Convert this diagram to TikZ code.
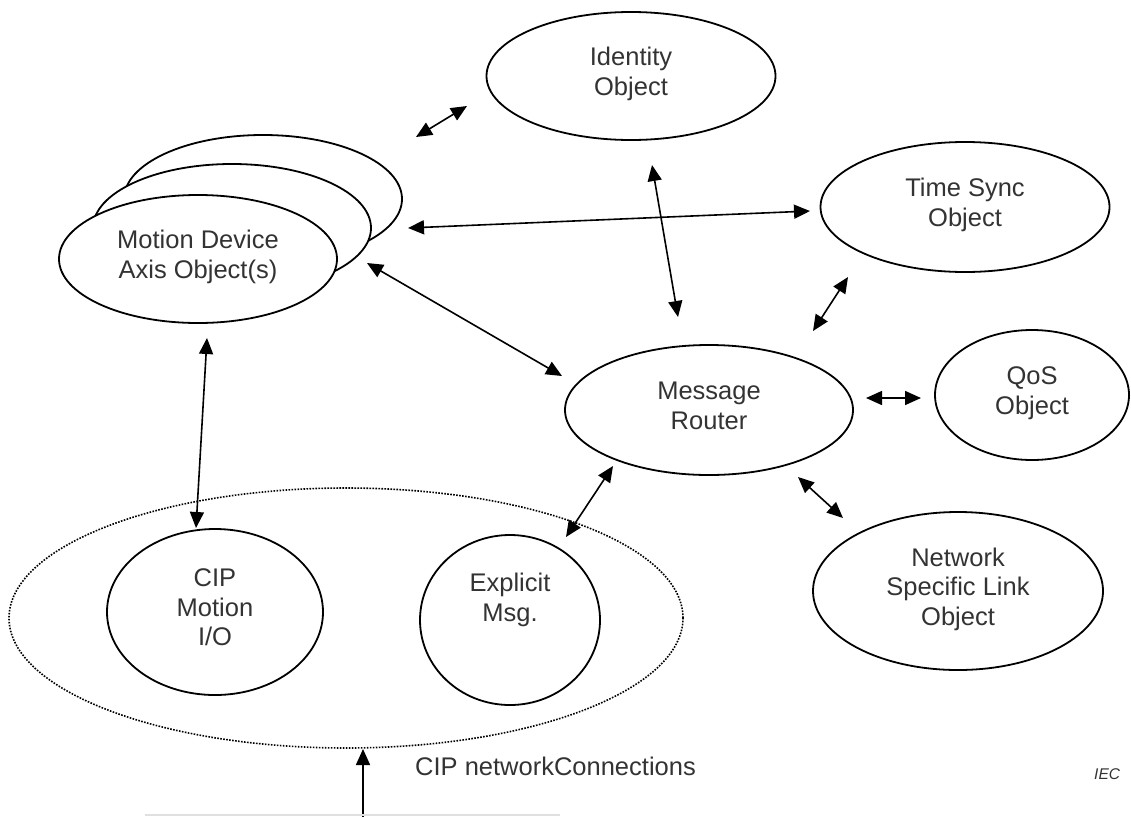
\documentclass[tikz,border=0pt]{standalone}
\usepackage{fontspec}
\setmainfont{Liberation Sans}
\usetikzlibrary{shapes.geometric,arrows.meta}
\begin{document}
\begin{tikzpicture}[x=1pt,y=-1pt,
  obj/.style={ellipse, draw=black, line width=1.8pt, fill=white, inner sep=0pt,
    align=center, text=black!80, font=\fontsize{25.5}{29.5}\selectfont, text depth=9pt},
  link/.style={line width=1.6pt, {Triangle[length=16pt,width=14pt]}-{Triangle[length=16pt,width=14pt]}},
  feed/.style={line width=1.6pt, -{Triangle[length=16pt,width=14pt]}},
  lbl/.style={text=black!80, font=\fontsize{25.5}{29.5}\selectfont, inner sep=0pt}]
\useasboundingbox (0,0) rectangle (1131,817);

% stacked axis objects
\node[obj, minimum width=278pt, minimum height=128pt] (mdBack) at (263,199) {};
\node[obj, minimum width=278pt, minimum height=128pt] (mdMid) at (232,228) {};
\node[obj, minimum width=278pt, minimum height=128pt] (mdFront) at (198,259) {Motion Device\\Axis Object(s)};

% device objects
\node[obj, minimum width=289pt, minimum height=128pt] (ident) at (631,76) {Identity\\Object};
\node[obj, minimum width=289pt, minimum height=130pt] (tsync) at (965,207) {Time Sync\\Object};
\node[obj, minimum width=288pt, minimum height=130pt] (router) at (709,410) {Message\\Router};
\node[obj, minimum width=194pt, minimum height=130pt] (qos) at (1032,395) {QoS\\Object};
\node[obj, minimum width=290pt, minimum height=158pt] (netlink) at (958,591) {Network\\Specific Link\\Object};

% connection group
\node[ellipse, draw=black, line width=1.6pt, dash pattern=on 1.6pt off 1.4pt,
  minimum width=674pt, minimum height=260pt] (conn) at (346,618) {};
\node[obj, minimum width=216pt, minimum height=166pt] (cipio) at (215,612) {CIP\\Motion\\I/O};
\node[obj, minimum width=180pt, minimum height=170pt, text depth=46pt] (explicit) at (510,620) {Explicit\\Msg.};

% arrow end points
\coordinate (mdId) at (416,137);   \coordinate (idMd) at (467,106);
\coordinate (mdTs) at (408,228);   \coordinate (tsMd) at (810,211);
\coordinate (idMr) at (652,165);   \coordinate (mrId) at (678,317);
\coordinate (mdMr) at (367,263);   \coordinate (mrMd) at (562,376);
\coordinate (tsMr) at (848,277);   \coordinate (mrTs) at (813,331);
\coordinate (mrQs) at (866,398);   \coordinate (qsMr) at (921,398);
\coordinate (mrNl) at (798,477);   \coordinate (nlMr) at (843,518);
\coordinate (mrEx) at (613,466);   \coordinate (exMr) at (566,537);
\coordinate (mdCi) at (207,338);   \coordinate (ciMd) at (196,528);
\coordinate (feedIn) at (363,817); \coordinate (feedTip) at (363,749);

\draw[link] (mdId) -- (idMd);
\draw[link] (mdTs) -- (tsMd);
\draw[link] (idMr) -- (mrId);
\draw[link] (mdMr) -- (mrMd);
\draw[link] (tsMr) -- (mrTs);
\draw[link] (mrQs) -- (qsMr);
\draw[link] (mrNl) -- (nlMr);
\draw[link] (mrEx) -- (exMr);
\draw[link] (mdCi) -- (ciMd);
\draw[feed] (feedIn) -- (feedTip);

% base line of the network
\draw[black!12, line width=2pt] (145,815) -- (560,815);

\node[lbl, anchor=base west] (netConn) at (415,775) {CIP networkConnections};
\node[anchor=base west, inner sep=0pt, text=black!80, font=\itshape\fontsize{15.5}{18}\selectfont] (iec) at (1094,779) {IEC};
\end{tikzpicture}
\end{document}
